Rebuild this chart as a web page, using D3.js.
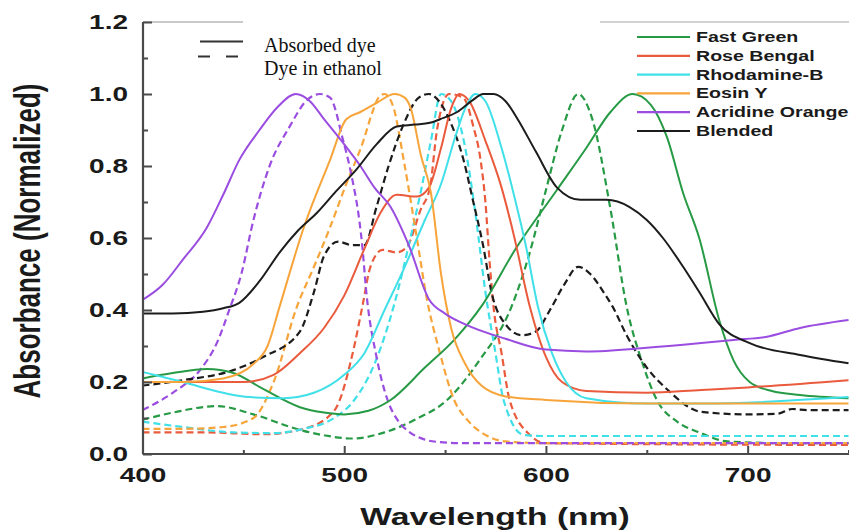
<!DOCTYPE html>
<html><head><meta charset="utf-8">
<script src="https://cdn.jsdelivr.net/npm/d3@7"></script>
<style>body{margin:0;background:#fff}svg{display:block}</style>
</head><body><svg id="c" width="849" height="531"></svg>
<script>
// ---------- data ----------
const xTicks = [400, 500, 600, 700];
const xMinorTicks = [450, 550, 650, 750];
const yTicks = [0, 0.2, 0.4, 0.6, 0.8, 1.0, 1.2];
const yMinorTicks = [0.1, 0.3, 0.5, 0.7, 0.9, 1.1];
const dyeNames = ["Fast Green", "Rose Bengal", "Rhodamine-B", "Eosin Y", "Acridine Orange", "Blended"];
const dyeColors = ["#279a45", "#ea5a3c", "#3fe0e8", "#f7a43a", "#9a4de0", "#1c1c1c"];
const styleNames = ["Absorbed dye", "Dye in ethanol"];

const fastGreenAbsW = [400,415,432,445,460,478,490,500,512,523,540,555,568,585,605,620,632,643,652,660,668,676,686,693,701,712,726,750];
const fastGreenAbsV = [.21,.225,.236,.225,.18,.13,.115,.11,.12,.15,.24,.32,.41,.57,.73,.85,.95,1.0,.97,.88,.725,.6,.37,.26,.2,.175,.164,.155];
const fastGreenEthW = [400,415,437,455,478,490,504,520,535,551,567,583,592,600,608,616,623,632,640,648,655,665,676,690,720,750];
const fastGreenEthV = [.095,.115,.133,.11,.067,.052,.043,.06,.095,.15,.26,.41,.56,.733,.9,1.0,.93,.68,.41,.25,.15,.09,.06,.035,.03,.03];

const roseBengalAbsW = [400,420,450,465,478,490,500,510,518,526,536,542,548,553,557,562,570,578,584,592,600,608,620,650,677,700,750];
const roseBengalAbsV = [.2,.2,.2,.22,.28,.35,.44,.57,.67,.72,.715,.74,.85,.96,1.0,.98,.87,.74,.61,.41,.27,.2,.175,.17,.178,.185,.205];
const roseBengalEthW = [400,430,460,480,495,505,509,513,519,526,531,538,542.5,546,552,559,564,567.5,570,572,574,578,582,592,600,750];
const roseBengalEthV = [.06,.06,.055,.07,.12,.3,.41,.52,.567,.56,.575,.68,.74,.9,1.0,.99,.91,.82,.7,.54,.41,.28,.15,.053,.03,.025];

const rhodamineAbsW = [400,420,440,453,470,485,500,510,520,530,540,548,555,560,565,570,578,585,590,596,603,610,620,650,677,750];
const rhodamineAbsV = [.228,.2,.17,.158,.155,.17,.22,.28,.4,.52,.65,.75,.88,.96,1.0,.98,.85,.7,.58,.41,.28,.2,.155,.14,.14,.158];
const rhodamineEthW = [400,420,445,465,480,495,505,515,525,532,538,543,548,553,560,565,570,575,579,589,600,750];
const rhodamineEthV = [.09,.075,.06,.058,.07,.1,.15,.25,.42,.58,.73,.87,1.0,.98,.85,.67,.45,.28,.15,.053,.05,.05];

const eosinAbsW = [400,420,440,455,462,468,480,493,501,508,516,525,530,533,538,543,548,553,560,568,580,600,650,700,750];
const eosinAbsV = [.2,.2,.21,.25,.3,.41,.63,.817,.93,.95,.975,1.0,.99,.96,.83,.725,.5,.35,.25,.19,.16,.15,.14,.14,.14];
const eosinEthW = [400,420,440,455,465,476.6,485,493,501,509.5,514,517,520,524,530,536,541,547,554.5,561.5,570,580,600,750];
const eosinEthV = [.07,.07,.075,.1,.2,.41,.52,.63,.75,.87,.95,.99,1.0,.97,.8,.6,.43,.29,.15,.092,.053,.035,.03,.03];

const acridineAbsW = [400,410,420,432,440,448,458,467,476,483,490,500,508,515,523,532,542,550,560,580,600,620,650,677,693,709,726,750];
const acridineAbsV = [.428,.47,.54,.63,.72,.817,.9,.964,1.0,.98,.93,.86,.8,.74,.686,.58,.43,.39,.36,.32,.29,.285,.295,.308,.317,.325,.35,.372];
const acridineEthW = [400,415,428.5,437,443,449,455,463,473,481.5,488,493,499.5,503,509,511,516,521.5,527,532,540,547.5,560,600,750];
const acridineEthV = [.122,.17,.233,.31,.4,.5,.65,.8,.91,.983,1.0,.99,.87,.79,.575,.447,.27,.15,.09,.0625,.04,.033,.03,.03,.03];

const blendedAbsW = [400,415,430,440,448,458,468,477,486.5,496,506,516,526,535,542.5,547.5,556,563,569,574,580,586,595,605.5,617,630,641.5,650,658,668,676,686,701,726,750];
const blendedAbsV = [.39,.39,.395,.405,.42,.48,.56,.62,.67,.73,.79,.86,.91,.915,.92,.93,.95,.98,1.0,1.0,.98,.93,.84,.74,.706,.706,.686,.65,.6,.52,.45,.36,.308,.275,.252];
const blendedEthW = [400,420,445,460,478,485,490,497,504,510,516,522,529,537,542,547,552,559,564,569,573,580,588,595,602,609,616,622,629,633,640,650,660,677,700,715,722,730,750];
const blendedEthV = [.19,.205,.233,.27,.34,.45,.55,.59,.58,.58,.686,.8,.91,.99,1.0,.98,.93,.82,.7,.575,.45,.36,.33,.34,.4,.47,.52,.5,.446,.41,.33,.24,.18,.117,.11,.112,.125,.122,.122];

const absW = [fastGreenAbsW, roseBengalAbsW, rhodamineAbsW, eosinAbsW, acridineAbsW, blendedAbsW];
const absV = [fastGreenAbsV, roseBengalAbsV, rhodamineAbsV, eosinAbsV, acridineAbsV, blendedAbsV];
const ethW = [fastGreenEthW, roseBengalEthW, rhodamineEthW, eosinEthW, acridineEthW, blendedEthW];
const ethV = [fastGreenEthV, roseBengalEthV, rhodamineEthV, eosinEthV, acridineEthV, blendedEthV];

// ---------- layout ----------
const SX = 1.4; // horizontal stretch of the bold labels in the reference
const svg = d3.select("#c");
svg.append("rect").attr("width", 849).attr("height", 531).attr("fill", "#fff");
const x = d3.scaleLinear().domain([400, 750]).range([142.5, 848.5]);
const y = d3.scaleLinear().domain([0, 1.2]).range([454, 22]);

const line = d3.line().x(d => x(d[0])).y(d => y(d[1])).curve(d3.curveMonotoneX);

const gc = svg.append("g").attr("fill", "none").attr("stroke-linejoin", "round");
dyeNames.forEach((n, i) => {
  gc.append("path").datum(d3.zip(ethW[i], ethV[i]))
    .attr("d", line).attr("stroke", dyeColors[i]).attr("stroke-width", 2.2)
    .attr("stroke-dasharray", "7,4");
});
dyeNames.forEach((n, i) => {
  gc.append("path").datum(d3.zip(absW[i], absV[i]))
    .attr("d", line).attr("stroke", dyeColors[i]).attr("stroke-width", 2);
});

// frame top line (partly hidden by inset legend)
svg.append("line").attr("x1", 143).attr("x2", 243).attr("y1", 22).attr("y2", 22).attr("stroke", "#c9c9c9").attr("stroke-width", 2);
svg.append("line").attr("x1", 600).attr("x2", 849).attr("y1", 22).attr("y2", 22).attr("stroke", "#d2d2d2").attr("stroke-width", 2);

function stretch(sel) {
  sel.each(function () {
    const t = d3.select(this);
    const xx = +t.attr("x") || 0, yy = +t.attr("y") || 0;
    t.attr("x", 0).attr("y", 0).attr("transform", `translate(${xx},${yy}) scale(${SX},1)`);
  });
}

const yAx = svg.append("g").attr("transform", "translate(143,0)")
  .call(d3.axisLeft(y).tickValues(yTicks).tickSize(-9).tickPadding(15).tickFormat(d3.format(".1f")));
const yAx2 = svg.append("g").attr("transform", "translate(143,0)")
  .call(d3.axisLeft(y).tickValues(yMinorTicks).tickSize(-5).tickFormat(""));
const xAx = svg.append("g").attr("transform", "translate(0,454)")
  .call(d3.axisBottom(x).tickValues(xTicks).tickSize(-8).tickPadding(14));
const xAx2 = svg.append("g").attr("transform", "translate(0,454)")
  .call(d3.axisBottom(x).tickValues(xMinorTicks).tickSize(-4).tickFormat(""));
[yAx, yAx2, xAx, xAx2].forEach(g => {
  g.select(".domain").attr("stroke", "#4a4a4a").attr("stroke-width", 2.2);
  g.selectAll(".tick line").attr("stroke", "#4a4a4a").attr("stroke-width", 2);
  g.selectAll("text").attr("font-family", "Liberation Sans, Arial, sans-serif")
    .attr("font-weight", "bold").attr("font-size", 20).attr("fill", "#1a1a1a");
});
yAx.select(".domain").attr("d", "M0,22V454");
yAx2.select(".domain").remove();
xAx.select(".domain").attr("d", "M142.5,0H849");
xAx2.select(".domain").remove();
stretch(yAx.selectAll("text"));
stretch(xAx.selectAll("text"));

svg.append("text").attr("transform", `translate(495,525) scale(${SX},1)`)
  .attr("text-anchor", "middle").attr("font-family", "Liberation Sans, Arial, sans-serif")
  .attr("font-weight", "bold").attr("font-size", 24).attr("fill", "#1a1a1a").text("Wavelength (nm)");
svg.append("text").attr("transform", `translate(40,241) scale(${SX},1) rotate(-90)`)
  .attr("text-anchor", "middle").attr("font-family", "Liberation Sans, Arial, sans-serif")
  .attr("font-weight", "bold").attr("font-size", 26).attr("fill", "#1a1a1a").text("Absorbance (Normalized)");

const lg = svg.append("g");
dyeNames.forEach((n, i) => {
  const yy = 37 + i * 18.8;
  lg.append("line").attr("x1", 637).attr("x2", 690).attr("y1", yy).attr("y2", yy)
    .attr("stroke", dyeColors[i]).attr("stroke-width", 2.2);
  lg.append("text").attr("transform", `translate(696,${yy}) scale(${SX},1)`).attr("dy", "0.36em")
    .attr("font-family", "Liberation Sans, Arial, sans-serif").attr("font-weight", "bold")
    .attr("font-size", 14).attr("fill", "#1a1a1a").text(n);
});

const sl = svg.append("g");
sl.append("line").attr("x1", 200).attr("x2", 243).attr("y1", 41.5).attr("y2", 41.5).attr("stroke", "#333").attr("stroke-width", 2.2);
sl.append("line").attr("x1", 198).attr("x2", 243).attr("y1", 56.5).attr("y2", 56.5).attr("stroke", "#333").attr("stroke-width", 2.2).attr("stroke-dasharray", "12,16");
styleNames.forEach((s, i) => {
  sl.append("text").attr("x", 264).attr("y", 52 + i * 23).attr("font-family", "Liberation Serif, Times New Roman, serif")
    .attr("font-size", 20).attr("fill", "#111").text(s);
});
</script>
</body></html>
